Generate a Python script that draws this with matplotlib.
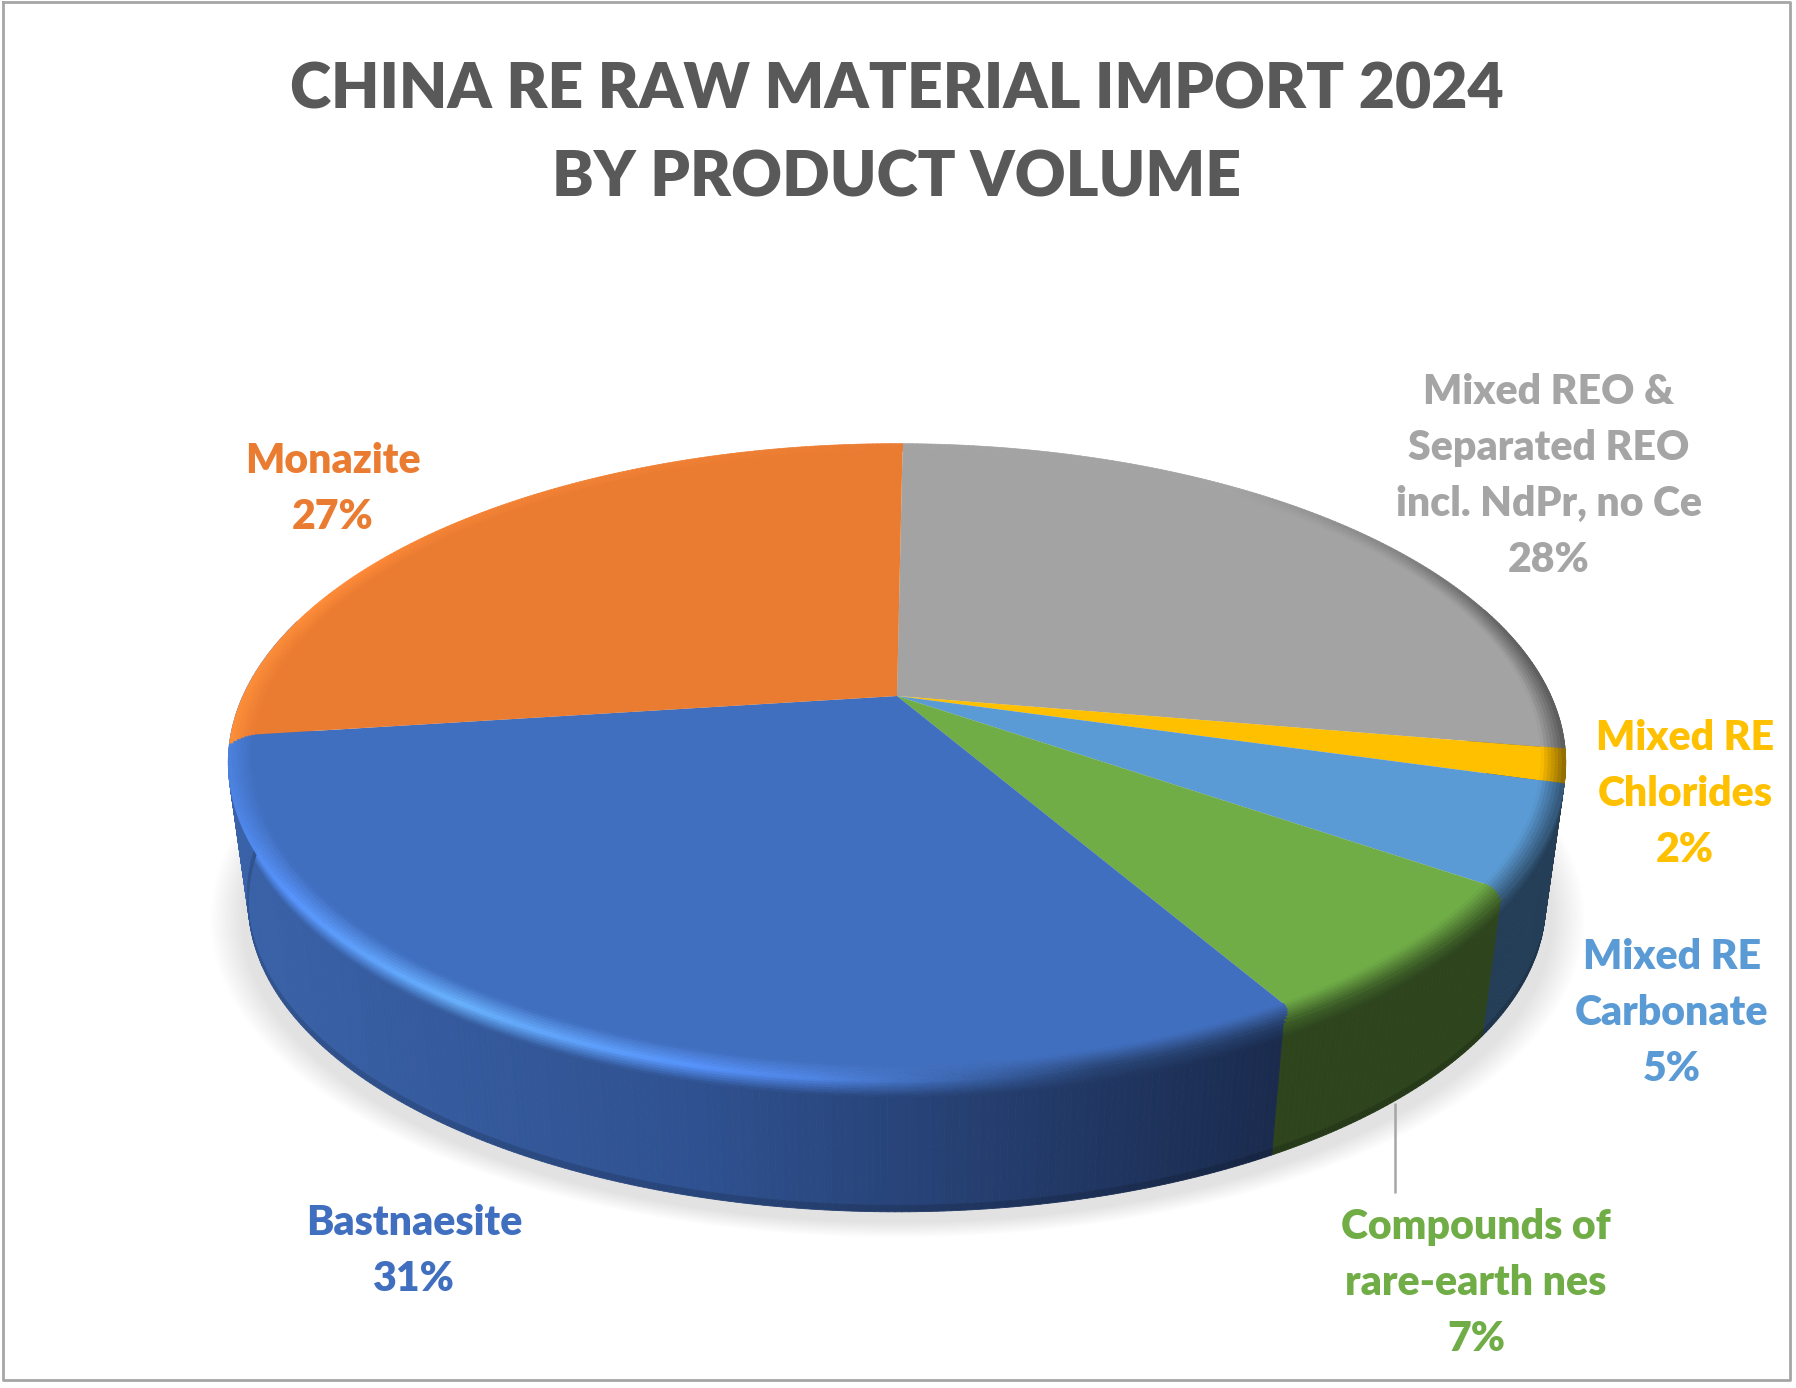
import numpy as np
import matplotlib
matplotlib.use('Agg')
import matplotlib.pyplot as plt
from matplotlib.collections import PolyCollection
from matplotlib.colors import to_rgb

# clockwise from 12 o'clock, same order as the chart
categories = ['Mixed REO &\nSeparated REO\nincl. NdPr, no Ce', 'Mixed RE\nChlorides', 'Mixed RE\nCarbonate',
              'Compounds of\nrare-earth nes', 'Bastnaesite', 'Monazite']
shares = [27.5, 1.7, 5.2, 7.0, 31.4, 27.2]
pct_labels = ['28%', '2%', '5%', '7%', '31%', '27%']
colors = ['#a3a3a3', '#ffc000', '#5b9bd5', '#70ad47', '#416fbf', '#ea7c31']
wall_colors = ['#5a5a5a', '#7a5c00', '#243e58', '#2d441d', '#30528f', '#a85820']
label_pos = [(1549, 476), (1685, 794), (1672, 1013), (1476, 1283), (414, 1251), (333, 489)]

W, H = 1796, 1388
CX = 897
START = 0.6


def rim(theta, r=1.0, t=0.0):
    # perspective view of a disc, theta in degrees clockwise from top, t = 0 top face, 1 bottom face
    th = np.radians(theta)
    x, y = r * np.sin(th), r * np.cos(th)
    k = 0.2086
    den = 1 + k * y
    scale = 1 - 0.03 * t
    apex_y = 696 + 142 * t
    return CX + 654 * scale * x / den, apex_y - 305 * scale * y / den


def mix(c1, c2, f):
    return tuple(np.array(c1) * (1 - f) + np.array(c2) * f)


def shade(c, f):
    return tuple(np.clip(np.array(c) * f, 0, 1))


def light(theta):
    # how bright the bevel is at this point of the rim
    th = np.radians(theta)
    c = np.sin(th)
    if np.cos(th) > 0:
        return np.interp(c, [-1, -0.8, 0, 0.6, 0.85, 1], [1.15, 1.05, 1, 1, 0.8, 0.55])
    return np.interp(c, [-1, -0.55, -0.1, 0.25, 0.5, 1], [1.15, 1.62, 1.2, 0.62, 0.55, 0.55])


def wall_color(i, theta):
    if categories[i] != 'Bastnaesite':
        return to_rgb(wall_colors[i])
    # only the big front slice shows a visible gradient
    x = rim(theta)[0]
    stops = [230, 700, 1280]
    rgb = [to_rgb('#3a62a8'), to_rgb('#2f5190'), to_rgb('#1a2b4e')]
    return tuple(np.interp(x, stops, [c[j] for c in rgb]) for j in range(3))


def arc(a0, a1, step=0.5):
    a = np.arange(a0, a1 + step, step)
    a[-1] = a1
    return a[a <= a1]


plt.rcParams['font.family'] = ['Lato', 'DejaVu Sans']
fig = plt.figure(figsize=(W / 100, H / 100), dpi=100)
ax = fig.add_axes([0, 0, 1, 1])

# soft shadow below the pie
yy, xx = np.mgrid[0:H, 0:W]
dist = np.sqrt(((xx - 897) / 668) ** 2 + ((yy - 918) / 310) ** 2)
alpha = np.clip((1.03 - dist) / 0.05, 0, 1)
shadow = np.zeros((H, W, 4))
shadow[..., :3] = 0.6
shadow[..., 3] = alpha * 0.28
ax.imshow(shadow, extent=(0, W, H, 0), aspect='auto', zorder=1, interpolation='bilinear')

edges = START + np.concatenate([[0], np.cumsum(shares)]) * 3.6
edges[-1] = START + 360
# slice corners are rounded: the edge on the rim and wall sits a little off the edge on the face
edge_shift = np.array([0, 0, 0, 1.5, 1.5, -1.5, 0])
wall_edges = edges + edge_shift

# side wall
wall_t = [0, 0.02, 0.04, 0.06, 0.08, 0.1, 0.12, 0.5, 0.95, 1]
polys, cols = [], []
for i in range(len(shares) - 1):
    a1 = 285 if categories[i] == 'Bastnaesite' else wall_edges[i + 1]
    steps = arc(wall_edges[i], a1)
    for a, b in zip(steps[:-1], steps[1:]):
        if np.cos(np.radians(a)) > 0.3:
            continue
        base = to_rgb(colors[i])
        rim_col = shade(base, light(a))
        wc = wall_color(i, a)
        for t0, t1 in zip(wall_t[:-1], wall_t[1:]):
            polys.append([rim(a, 1, t0), rim(b, 1, t0), rim(b, 1, t1), rim(a, 1, t1)])
            tm = (t0 + t1) / 2
            if tm < 0.12:
                cols.append(mix(rim_col, wc, tm / 0.12))
            elif tm > 0.95:
                cols.append(shade(wc, 0.85))
            else:
                cols.append(wc)
ax.add_collection(PolyCollection(polys, facecolors=cols, edgecolors=cols, linewidths=0.6, zorder=2))

# flat top face
for i in range(len(shares)):
    a = arc(edges[i], edges[i + 1])
    rx, ry = rim(a, 0.97)
    ax.fill(np.concatenate([[CX], rx]), np.concatenate([[696], ry]), color=colors[i], lw=0, zorder=3)

# bevel band around the edge of the face
band_r = np.linspace(0.965, 1, 8)
polys, cols = [], []
for r0, r1 in zip(band_r[:-1], band_r[1:]):
    f = ((r0 + r1) / 2 - 0.965) / 0.035
    layer_edges = edges + edge_shift * f ** 2
    for i in range(len(shares)):
        base = to_rgb(colors[i])
        steps = arc(layer_edges[i], layer_edges[i + 1])
        for a, b in zip(steps[:-1], steps[1:]):
            polys.append([rim(a, r0), rim(b, r0), rim(b, r1), rim(a, r1)])
            cols.append(mix(base, shade(base, light(a)), f))
ax.add_collection(PolyCollection(polys, facecolors=cols, edgecolors=cols, linewidths=0.5, zorder=4))

# leader line for the green label
ax.plot([1395, 1395], [1103, 1193], color='#a6a6a6', lw=1.8, zorder=5, solid_capstyle='butt')

for cat, pct, pos, col in zip(categories, pct_labels, label_pos, colors):
    col = '#a5a5a5' if col == '#a3a3a3' else col
    ax.text(pos[0], pos[1], cat + '\n' + pct, color=col, fontsize=29.5, fontweight=800,
            ha='center', va='center', linespacing=1.58, zorder=6)

ax.text(897, 134, 'CHINA RE RAW MATERIAL IMPORT 2024\nBY PRODUCT VOLUME', color='#595959',
        fontsize=45, fontweight=800, ha='center', va='center', linespacing=1.64, zorder=6)

# border of the chart area
ax.plot([3, 1790, 1790, 3, 3], [2, 2, 1380, 1380, 2], color='#a6a6a6', lw=2, zorder=7)

ax.set_xlim(0, W)
ax.set_ylim(H, 0)
ax.axis('off')
fig.savefig('out.png', dpi=100)
